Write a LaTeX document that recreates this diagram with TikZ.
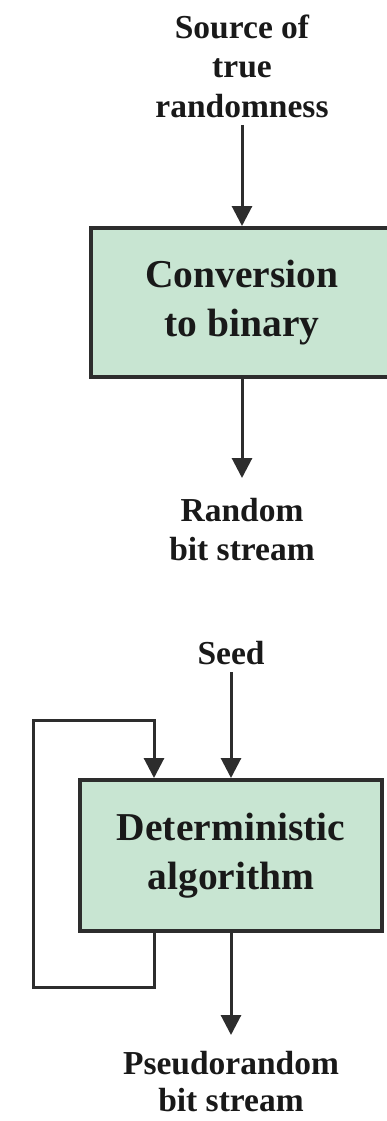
\documentclass[tikz,border=0pt]{standalone}
\usepackage{fontspec}
\setmainfont{Liberation Serif}
\usetikzlibrary{arrows.meta}
\definecolor{boxgreen}{RGB}{200,229,210}
\definecolor{linegray}{RGB}{45,45,45}

\begin{document}
\begin{tikzpicture}[x=1pt, y=-1pt, block/.style={rectangle, draw=linegray, line width=4pt, fill=boxgreen, minimum width=302pt, minimum height=149pt, align=center, text=black!90, font=\fontsize{39.5}{48.5}\selectfont\bfseries}, lbl/.style={align=center, inner sep=7pt, text=black!90, font=\fontsize{33.5}{39.5}\selectfont\bfseries}, outlbl/.style={lbl, inner ysep=20pt}, arr/.style={-{Triangle[width=20pt, length=20pt]}, line width=3pt, draw=linegray}]

  \useasboundingbox (0,0) rectangle (387,1121);

  % true random number generator
  \node[lbl, anchor=south] (source) at (242,125) {Source of\\true\\randomness};
  \node[block] (conv) at (242,302.5) {Conversion\\to binary};
  \node[outlbl, anchor=north] (randbits) at (242,478) {Random\\bit stream};

  % pseudorandom number generator
  \node[lbl, anchor=south] (seed) at (231,672) {Seed};
  \node[block, minimum height=151pt] (alg) at (231,855.5) {Deterministic\\algorithm};
  \node[outlbl, inner ysep=16pt, anchor=north, font=\fontsize{33.5}{37.5}\selectfont\bfseries] (pseudobits) at (231,1035) {Pseudorandom\\bit stream};

  \draw[arr] (source) -- (conv);
  \draw[arr] (conv) -- (randbits);
  \draw[arr] (seed) -- (alg);
  \draw[arr] (alg) -- (pseudobits);
  \draw[arr] ([xshift=-77pt]alg.south) -- ++(0,54) -| ++(-121,-267) -| ([xshift=-77pt]alg.north);
\end{tikzpicture}
\end{document}
